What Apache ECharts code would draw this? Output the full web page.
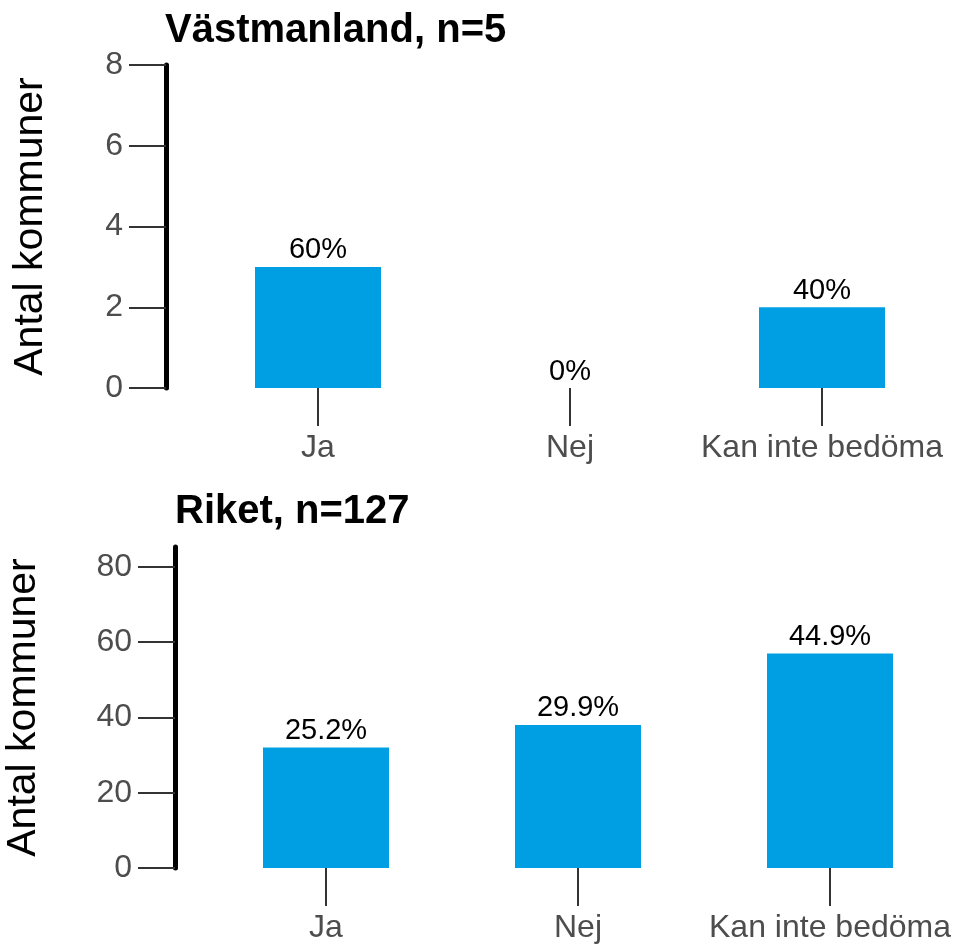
<!DOCTYPE html>
<html>
<head>
<meta charset="utf-8">
<script src="https://cdn.jsdelivr.net/npm/echarts@6/dist/echarts.min.js"></script>
<style>
  html, body { margin: 0; padding: 0; background: #fff; }
  #chart { width: 954px; height: 945px; }
</style>
</head>
<body>
<div id="chart"></div>
<script>
const categories = ['Ja', 'Nej', 'Kan inte bedöma']
const vastmanlandTitle = 'Västmanland, n=5'
const vastmanlandN = 5
const vastmanlandValues = [3, 0, 2]
const riketTitle = 'Riket, n=127'
const riketN = 127
const riketValues = [32, 38, 57]
const topTicks = [0, 2, 4, 6, 8]
const bottomTicks = [0, 20, 40, 60, 80]
const yName = 'Antal kommuner'

const font = 'Liberation Sans'
const barColor = '#009FE3'
const gray = '#4D4D4D'

function pct(v, n) {
  const p = Math.round(v / n * 1000) / 10
  return (p % 1 === 0 ? p.toFixed(0) : p.toFixed(1)) + '%'
}

function yAxis(idx, max, ticks, offset, nameGap) {
  return {
    type: 'value',
    gridIndex: idx,
    min: 0,
    max: max,
    offset: offset,
    name: yName,
    nameLocation: 'middle',
    nameGap: nameGap,
    nameTextStyle: { fontFamily: font, fontSize: 41, color: '#000' },
    axisLine: { show: true, lineStyle: { color: '#000', width: 5 } },
    axisTick: { show: true, length: 37, customValues: ticks, lineStyle: { color: '#333', width: 2 } },
    axisLabel: { margin: 43, customValues: ticks, fontFamily: font, fontSize: 32, color: gray },
    splitLine: { show: false }
  }
}

function xAxis(idx) {
  return {
    type: 'category',
    gridIndex: idx,
    data: categories,
    axisLine: { show: false },
    axisTick: { show: true, alignWithLabel: true, length: 38, lineStyle: { color: '#333', width: 2 } },
    axisLabel: { margin: 44, fontFamily: font, fontSize: 32, color: gray, interval: 0 }
  }
}

function bars(idx, values, n) {
  return {
    type: 'bar',
    xAxisIndex: idx,
    yAxisIndex: idx,
    data: values,
    barWidth: '50%',
    itemStyle: { color: barColor },
    label: {
      show: true,
      position: 'top',
      distance: 2,
      fontFamily: font,
      fontSize: 29,
      color: '#000',
      formatter: p => pct(p.value, n)
    }
  }
}

const chart = echarts.init(document.getElementById('chart'))
chart.setOption({
  animation: false,
  title: [
    { text: vastmanlandTitle, left: 165, top: 11, padding: 0,
      textStyle: { fontFamily: font, fontSize: 40, fontWeight: 'bold', color: '#000' } },
    { text: riketTitle, left: 175, top: 492, padding: 0,
      textStyle: { fontFamily: font, fontSize: 40, fontWeight: 'bold', color: '#000' } }
  ],
  grid: [
    { left: 192, top: 65, width: 756, height: 323, outerBoundsMode: 'none' },
    { left: 200, top: 547, width: 756, height: 321, outerBoundsMode: 'none' }
  ],
  xAxis: [xAxis(0), xAxis(1)],
  yAxis: [
    yAxis(0, 8, topTicks, 26, 115),
    yAxis(1, 85.3, bottomTicks, 25, 131)
  ],
  series: [
    bars(0, vastmanlandValues, vastmanlandN),
    bars(1, riketValues, riketN)
  ]
})
</script>
</body>
</html>
